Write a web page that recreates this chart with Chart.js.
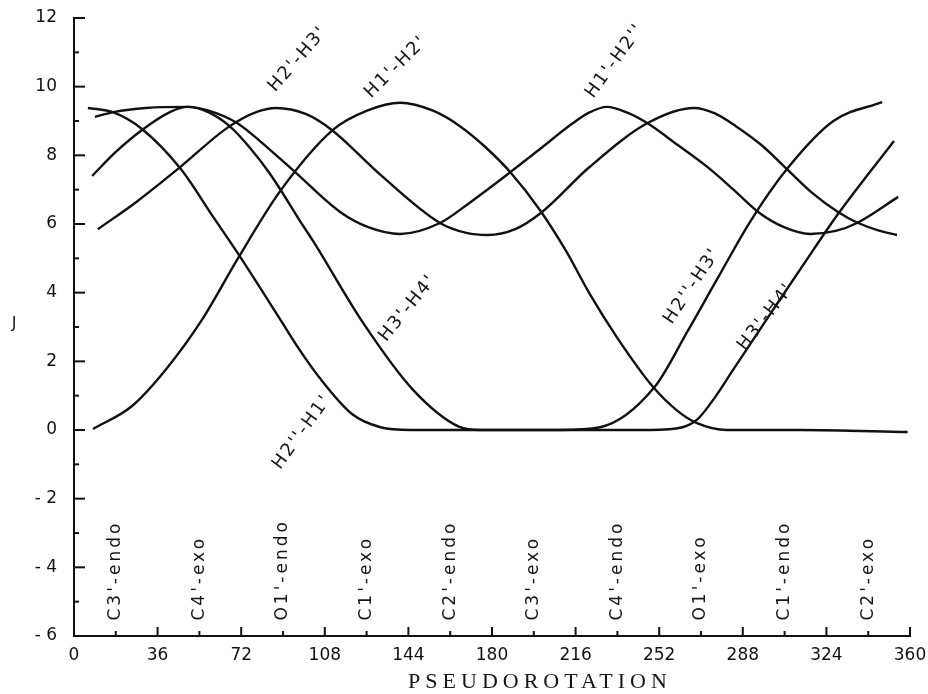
<!DOCTYPE html>
<html>
<head>
<meta charset="utf-8">
<script src="https://cdn.jsdelivr.net/npm/chart.js@4.4.1/dist/chart.umd.min.js"></script>
<style>
  html, body { margin: 0; padding: 0; background: #fff; }
  #wrap { width: 928px; height: 694px; }
</style>
</head>
<body>
<div id="wrap"><canvas id="jChart" width="928" height="694"></canvas></div>
<script>
// pseudorotation phase P (deg) and coupling J (Hz)
const h1h2P = [8.2, 25, 40, 55, 70.6, 88.7, 111.5, 126.2, 140.4, 154.6, 166.2, 177, 188, 200.7, 212, 222.2, 233.8, 249.4, 260, 268.3, 281, 313, 359];
const h1h2J = [0.03, 0.7, 1.8, 3.2, 5.0, 6.95, 8.74, 9.3, 9.53, 9.3, 8.85, 8.25, 7.5, 6.4, 5.2, 3.95, 2.7, 1.25, 0.55, 0.2, 0.0, 0.0, -0.06];

const h2h1P = [6, 17, 29, 46, 60, 71, 89, 97, 106, 120, 132, 145, 209, 226.5, 250, 264, 277, 291, 307, 327, 348];
const h2h1J = [9.38, 9.25, 8.78, 7.6, 6.2, 5.1, 3.2, 2.35, 1.5, 0.45, 0.08, 0.0, 0.0, 0.08, 1.25, 2.85, 4.4, 6.05, 7.6, 9.0, 9.55];

const h3h4P = [9, 17, 31, 49, 58, 67, 76, 84, 89, 97, 103, 124.5, 146, 166, 175, 248, 262, 268.3, 276, 283.8, 301, 318.3, 329, 353.1];
const h3h4J = [9.12, 9.26, 9.38, 9.41, 9.25, 8.85, 8.2, 7.5, 6.99, 6.12, 5.5, 3.12, 1.17, 0.09, 0.0, 0.0, 0.08, 0.3, 0.95, 1.75, 3.5, 5.24, 6.29, 8.42];

const h2h3P = [10.3, 27, 45.6, 66, 79, 87, 100, 111, 132, 157.6, 169, 178, 190, 201, 222, 247, 267, 276, 285, 296, 307, 318, 329, 337, 347, 354.4];
const h2h3J = [5.85, 6.65, 7.65, 8.8, 9.27, 9.38, 9.2, 8.74, 7.43, 6.03, 5.74, 5.68, 5.85, 6.32, 7.66, 8.94, 9.38, 9.22, 8.85, 8.3, 7.6, 6.9, 6.35, 6.05, 5.8, 5.68];

const h1h2bP = [7.8, 18, 29.3, 41.3, 49, 58, 70.2, 84.4, 94.3, 114.6, 127, 140.4, 157.6, 170, 183.5, 200, 214.9, 222, 229.5, 238, 246.8, 260, 273.9, 284, 294.6, 306, 317, 328, 337.2, 354.9];
const h1h2bJ = [7.4, 8.1, 8.74, 9.26, 9.41, 9.3, 8.94, 8.16, 7.57, 6.35, 5.9, 5.71, 6.03, 6.6, 7.28, 8.15, 8.94, 9.25, 9.41, 9.25, 8.94, 8.3, 7.6, 7.0, 6.35, 5.9, 5.71, 5.8, 6.03, 6.79];

const xTicks = [0, 36, 72, 108, 144, 180, 216, 252, 288, 324, 360];

const conformNames = ["C3'-endo", "C4'-exo", "O1'-endo", "C1'-exo", "C2'-endo", "C3'-exo", "C4'-endo", "O1'-exo", "C1'-endo", "C2'-exo"];
const conformP = [18, 54, 90, 126, 162, 198, 234, 270, 306, 342];

// curve labels: text, where it sits (P, J) and its slant
const curveLabels = [
  { text: "H2'-H3'", p: 96.5, j: 10.8, angle: -49 },
  { text: "H1'-H2'", p: 138.7, j: 10.57, angle: -45 },
  { text: "H1'-H2''", p: 233, j: 10.75, angle: -54 },
  { text: "H3'-H4'", p: 143.8, j: 3.55, angle: -51 },
  { text: "H2''-H1'", p: 98.2, j: -0.06, angle: -54 },
  { text: "H2''-H3'", p: 266.2, j: 4.19, angle: -56 },
  { text: "H3'-H4'", p: 298, j: 3.29, angle: -52 }
];

function pts(ps, js) {
  return ps.map((p, i) => ({ x: p, y: js[i] }));
}

function curve(ps, js) {
  return {
    data: pts(ps, js),
    borderColor: '#111',
    borderWidth: 2.4,
    pointRadius: 0,
    fill: false,
    cubicInterpolationMode: 'monotone'
  };
}

// ticks drawn inward from the axes, plus all the hand-placed text
const figurePlugin = {
  id: 'figure',
  afterDraw(chart) {
    const { ctx, scales: { x, y } } = chart;
    ctx.save();
    ctx.strokeStyle = '#111';
    ctx.lineWidth = 2;
    for (let v = -6; v <= 12; v++) {
      const py = y.getPixelForValue(v);
      const len = v % 2 === 0 ? 11 : 5;
      ctx.beginPath();
      ctx.moveTo(x.left, py);
      ctx.lineTo(x.left + len, py);
      ctx.stroke();
    }
    for (let v = 18; v <= 360; v += 18) {
      const px = x.getPixelForValue(v);
      const len = v % 36 === 0 ? 9 : 5;
      ctx.beginPath();
      ctx.moveTo(px, y.bottom);
      ctx.lineTo(px, y.bottom - len);
      ctx.stroke();
    }

    ctx.fillStyle = '#151515';

    // conformation names, reading upward
    ctx.font = '17px "DejaVu Sans"';
    ctx.letterSpacing = '3px';
    ctx.textAlign = 'left';
    ctx.textBaseline = 'middle';
    conformNames.forEach((name, i) => {
      ctx.save();
      ctx.translate(x.getPixelForValue(conformP[i]), y.getPixelForValue(-5.55));
      ctx.rotate(-Math.PI / 2);
      ctx.fillText(name, 0, 0);
      ctx.restore();
    });

    // curve names
    ctx.font = '18px "DejaVu Sans"';
    ctx.letterSpacing = '2px';
    ctx.textAlign = 'center';
    curveLabels.forEach(l => {
      ctx.save();
      ctx.translate(x.getPixelForValue(l.p), y.getPixelForValue(l.j));
      ctx.rotate(l.angle * Math.PI / 180);
      ctx.fillText(l.text, 0, 0);
      ctx.restore();
    });

    // axis names
    ctx.font = '16px "DejaVu Sans"';
    ctx.letterSpacing = '0px';
    ctx.fillText('J', 14, y.getPixelForValue(3.1));
    ctx.font = '22px "Liberation Serif"';
    ctx.letterSpacing = '5px';
    ctx.fillText('PSEUDOROTATION', 540, 682);
    ctx.restore();
  }
};

new Chart(document.getElementById('jChart'), {
  type: 'line',
  data: {
    datasets: [
      curve(h1h2P, h1h2J),
      curve(h2h1P, h2h1J),
      curve(h3h4P, h3h4J),
      curve(h2h3P, h2h3J),
      curve(h1h2bP, h1h2bJ)
    ]
  },
  options: {
    responsive: false,
    animation: false,
    devicePixelRatio: 1,
    layout: { padding: { top: 18, right: 18, left: 0, bottom: 0 } },
    plugins: {
      legend: { display: false },
      tooltip: { enabled: false }
    },
    scales: {
      x: {
        type: 'linear',
        min: 0,
        max: 360,
        afterBuildTicks: scale => { scale.ticks = xTicks.map(v => ({ value: v })); },
        afterFit: scale => {
          scale.height = 58;
          scale.paddingLeft = 0;
          scale.paddingRight = 0;
        },
        grid: { display: false, drawTicks: false },
        border: { display: true, color: '#111', width: 2 },
        ticks: {
          padding: 9,
          color: '#111',
          maxRotation: 0,
          font: { family: 'DejaVu Sans', size: 17 }
        }
      },
      y: {
        min: -6,
        max: 12,
        afterFit: scale => {
          scale.width = 74;
          scale.paddingTop = 0;
          scale.paddingBottom = 0;
        },
        grid: { display: false, drawTicks: false },
        border: { display: true, color: '#111', width: 2 },
        ticks: {
          stepSize: 2,
          padding: 17,
          color: '#111',
          font: { family: 'DejaVu Sans', size: 17 },
          callback: v => (v < 0 ? '- ' + (-v) : String(v))
        }
      }
    }
  },
  plugins: [figurePlugin]
});
</script>
</body>
</html>
